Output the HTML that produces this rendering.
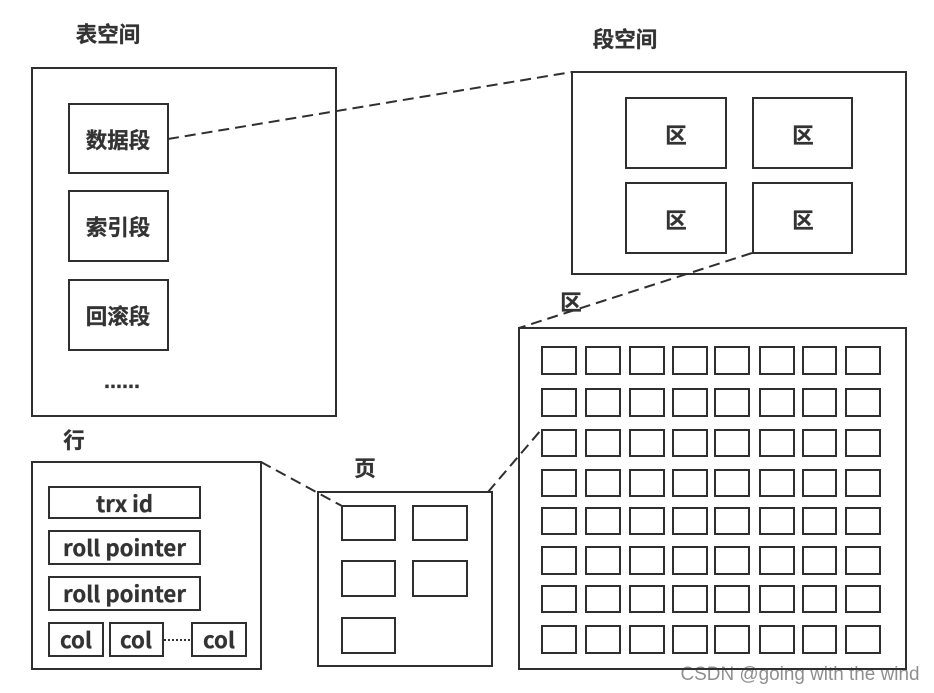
<!DOCTYPE html>
<html><head><meta charset="utf-8"><style>
html,body{margin:0;padding:0;background:#fff}
svg{display:block}
text{font-family:"Liberation Sans","Noto Sans CJK SC",sans-serif;font-weight:700;fill:#333;stroke:#333;stroke-width:.3px;font-size:21.500px;text-anchor:middle}
.l{font-family:"Noto Sans CJK SC","Liberation Sans",sans-serif;font-size:22px}
.s{fill:none;stroke:#2f2f2f;stroke-width:2}
.d{stroke:#2f2f2f;stroke-width:2;stroke-dasharray:11 6;fill:none}
</style></head><body>
<svg width="934" height="693" viewBox="0 0 934 693" xmlns="http://www.w3.org/2000/svg">
<rect width="934" height="693" fill="#fff"/>
<path class="d" d="M168 139L572 72"/>
<path class="d" d="M752 253L519 328"/>
<path class="d" d="M261 462L342 506"/>
<path class="d" d="M488 492L541 430"/>
<rect class="s" x="32" y="68" width="304" height="348"/>
<rect class="s" x="69" y="104" width="99" height="69"/>
<rect class="s" x="69" y="191" width="99" height="70"/>
<rect class="s" x="69" y="280" width="99" height="70"/>
<rect class="s" x="572" y="72" width="334" height="202"/>
<rect class="s" x="626" y="98" width="100" height="70"/>
<rect class="s" x="753" y="98" width="99" height="70"/>
<rect class="s" x="626" y="183" width="100" height="70"/>
<rect class="s" x="753" y="183" width="99" height="70"/>
<rect class="s" x="519" y="328" width="387" height="341"/>
<g class="s">
<path d="M542 347h34v27h-34zM586 347h34v27h-34zM630 347h34v27h-34zM673 347h34v27h-34zM715 347h34v27h-34zM760 347h34v27h-34zM803 347h33v27h-33zM846 347h34v27h-34z"/>
<path d="M542 389h34v27h-34zM586 389h34v27h-34zM630 389h34v27h-34zM673 389h34v27h-34zM715 389h34v27h-34zM760 389h34v27h-34zM803 389h33v27h-33zM846 389h34v27h-34z"/>
<path d="M542 430h34v26h-34zM586 430h34v26h-34zM630 430h34v26h-34zM673 430h34v26h-34zM715 430h34v26h-34zM760 430h34v26h-34zM803 430h33v26h-33zM846 430h34v26h-34z"/>
<path d="M542 470h34v26h-34zM586 470h34v26h-34zM630 470h34v26h-34zM673 470h34v26h-34zM715 470h34v26h-34zM760 470h34v26h-34zM803 470h33v26h-33zM846 470h34v26h-34z"/>
<path d="M542 508h34v26h-34zM586 508h34v26h-34zM630 508h34v26h-34zM673 508h34v26h-34zM715 508h34v26h-34zM760 508h34v26h-34zM803 508h33v26h-33zM846 508h34v26h-34z"/>
<path d="M542 547h34v27h-34zM586 547h34v27h-34zM630 547h34v27h-34zM673 547h34v27h-34zM715 547h34v27h-34zM760 547h34v27h-34zM803 547h33v27h-33zM846 547h34v27h-34z"/>
<path d="M542 586h34v26h-34zM586 586h34v26h-34zM630 586h34v26h-34zM673 586h34v26h-34zM715 586h34v26h-34zM760 586h34v26h-34zM803 586h33v26h-33zM846 586h34v26h-34z"/>
<path d="M542 626h34v27h-34zM586 626h34v27h-34zM630 626h34v27h-34zM673 626h34v27h-34zM715 626h34v27h-34zM760 626h34v27h-34zM803 626h33v27h-33zM846 626h34v27h-34z"/>
</g>
<rect class="s" x="32" y="462" width="229" height="207"/>
<rect class="s" x="49" y="487" width="151" height="31"/>
<rect class="s" x="49" y="531" width="151" height="33"/>
<rect class="s" x="49" y="577" width="151" height="33"/>
<rect class="s" x="49" y="623" width="54" height="33"/>
<rect class="s" x="110" y="623" width="53" height="33"/>
<rect class="s" x="192" y="623" width="54" height="33"/>
<rect class="s" x="318" y="492" width="174" height="174"/>
<rect class="s" x="342" y="506" width="53" height="34"/>
<rect class="s" x="413" y="506" width="54" height="34"/>
<rect class="s" x="342" y="561" width="53" height="35"/>
<rect class="s" x="413" y="561" width="54" height="35"/>
<rect class="s" x="342" y="618" width="53" height="35"/>
<path d="M164 640H191" stroke="#333" stroke-width="2" stroke-dasharray="2 2" fill="none"/>
<text x="108" y="42">表空间</text>
<text x="625" y="47">段空间</text>
<text x="118" y="148">数据段</text>
<text x="118" y="235">索引段</text>
<text x="118" y="324">回滚段</text>
<text x="122" y="388" textLength="36" lengthAdjust="spacingAndGlyphs">......</text>
<text x="676" y="143">区</text>
<text x="803" y="143">区</text>
<text x="676" y="228">区</text>
<text x="803" y="228">区</text>
<text x="571" y="310">区</text>
<text x="74" y="448">行</text>
<text x="365" y="476">页</text>
<text class="l" x="124.500" y="512" textLength="57" lengthAdjust="spacingAndGlyphs">trx id</text>
<text class="l" x="124.500" y="556" textLength="123" lengthAdjust="spacingAndGlyphs">roll pointer</text>
<text class="l" x="124.500" y="602" textLength="123" lengthAdjust="spacingAndGlyphs">roll pointer</text>
<text class="l" x="76" y="648" textLength="32" lengthAdjust="spacingAndGlyphs">col</text>
<text class="l" x="136" y="648" textLength="32" lengthAdjust="spacingAndGlyphs">col</text>
<text class="l" x="219" y="648" textLength="32" lengthAdjust="spacingAndGlyphs">col</text>
<text x="800" y="680" textLength="239" lengthAdjust="spacingAndGlyphs" style="font-weight:400;font-size:19px;fill:#333;fill-opacity:.55;stroke:none">CSDN @going with the wind</text>
</svg>
</body></html>
